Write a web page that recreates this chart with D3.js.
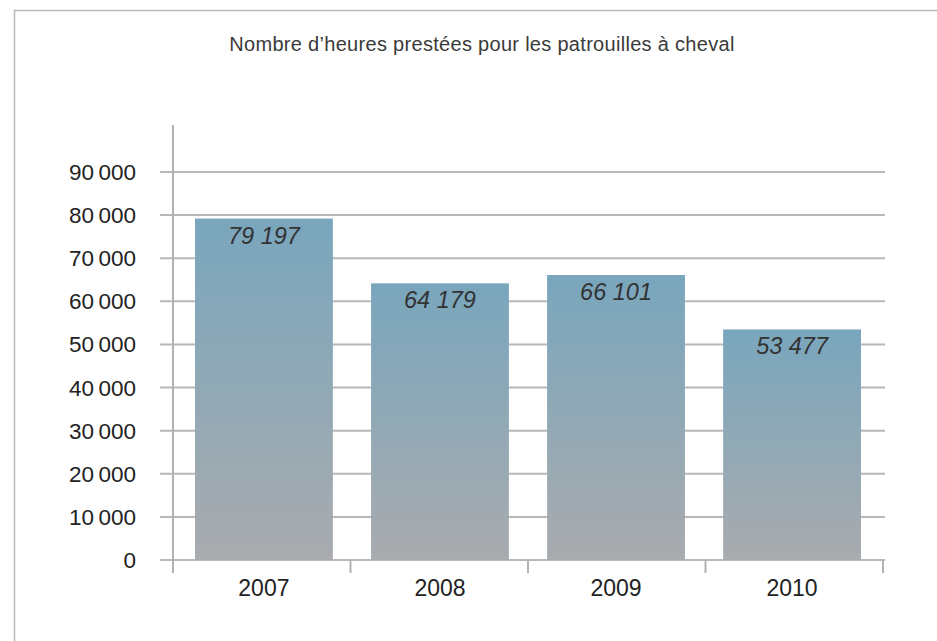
<!DOCTYPE html>
<html>
<head>
<meta charset="utf-8">
<script src="https://cdn.jsdelivr.net/npm/d3@7"></script>
<style>
  body { margin: 0; background: #fff; }
  svg { display: block; font-family: "Liberation Sans", Arial, sans-serif; }
</style>
</head>
<body>
<script>
// Data
const years = ["2007", "2008", "2009", "2010"];
const hours = [79197, 64179, 66101, 53477];
const yTicks = [0, 10000, 20000, 30000, 40000, 50000, 60000, 70000, 80000, 90000];
const title = "Nombre d\u2019heures prestées pour les patrouilles à cheval";

const width = 937;
const height = 641;
const margin = {top: 125, right: 54, bottom: 81, left: 173};

const svg = d3.select('body')
  .append('svg')
  .attr('width', width)
  .attr('height', height);

// frame
svg.append('rect')
  .attr('x', 14.5).attr('y', 10.5)
  .attr('width', 1000).attr('height', 1000)
  .attr('fill', 'none')
  .attr('stroke', '#b8b8b8')
  .attr('stroke-width', 1.5);

// gradient for bars
const grad = svg.append('defs')
  .append('linearGradient')
  .attr('id', 'barGrad')
  .attr('x1', 0).attr('y1', 0).attr('x2', 0).attr('y2', 1);
grad.append('stop').attr('offset', '0%').attr('stop-color', '#79a6bd');
grad.append('stop').attr('offset', '100%').attr('stop-color', '#a9abae');

// Scales
const x = d3.scaleBand()
  .domain(years)
  .range([margin.left, width - margin.right])
  .paddingInner(0.217)
  .paddingOuter(0.125);

// category boundaries for the x ticks
const xEdge = d3.scaleLinear()
  .domain([0, years.length])
  .range([margin.left, width - margin.right]);

const y = d3.scaleLinear()
  .domain([0, 90000])
  .range([height - margin.bottom, 172]);

const fmt = d => d3.format(',')(d).replace(/,/g, '\u2009');

// gridlines
svg.append('g')
  .selectAll('line')
  .data(yTicks)
  .join('line')
  .attr('x1', margin.left - 13)
  .attr('x2', width - margin.right + 2)
  .attr('y1', d => y(d))
  .attr('y2', d => y(d))
  .attr('stroke', '#b6b8ba')
  .attr('stroke-width', 2);

// bars
svg.append('g')
  .selectAll('rect')
  .data(hours)
  .join('rect')
  .attr('x', (d, i) => x(years[i]))
  .attr('y', d => y(d))
  .attr('width', x.bandwidth())
  .attr('height', d => y(0) - y(d))
  .attr('fill', 'url(#barGrad)');

// value labels
svg.append('g')
  .selectAll('text')
  .data(hours)
  .join('text')
  .attr('x', (d, i) => x(years[i]) + x.bandwidth() / 2)
  .attr('y', d => y(d) + 25)
  .attr('text-anchor', 'middle')
  .attr('font-size', 23.5)
  .attr('font-style', 'italic')
  .attr('fill', '#333')
  .text(d => fmt(d).replace('\u2009', ' '));

// y axis line
svg.append('line')
  .attr('x1', margin.left).attr('x2', margin.left)
  .attr('y1', margin.top).attr('y2', y(0) + 13)
  .attr('stroke', '#b0b2b4')
  .attr('stroke-width', 2);

// y tick labels
svg.append('g')
  .selectAll('text')
  .data(yTicks)
  .join('text')
  .attr('x', 136)
  .attr('y', d => y(d) + 8)
  .attr('text-anchor', 'end')
  .attr('font-size', 22.5)
  .attr('fill', '#222')
  .text(d => fmt(d));

// x axis ticks
svg.append('g')
  .selectAll('line')
  .data(d3.range(1, years.length + 1))
  .join('line')
  .attr('x1', d => xEdge(d)).attr('x2', d => xEdge(d))
  .attr('y1', y(0)).attr('y2', y(0) + 13)
  .attr('stroke', '#b0b2b4')
  .attr('stroke-width', 2);

// x labels
svg.append('g')
  .selectAll('text')
  .data(years)
  .join('text')
  .attr('x', d => x(d) + x.bandwidth() / 2)
  .attr('y', y(0) + 36)
  .attr('text-anchor', 'middle')
  .attr('font-size', 23)
  .attr('fill', '#222')
  .text(d => d);

// title
svg.append('text')
  .attr('x', 482)
  .attr('y', 51)
  .attr('text-anchor', 'middle')
  .attr('font-size', 20)
  .attr('letter-spacing', 0.3)
  .attr('fill', '#3a3a3a')
  .text(title);
</script>
</body>
</html>
